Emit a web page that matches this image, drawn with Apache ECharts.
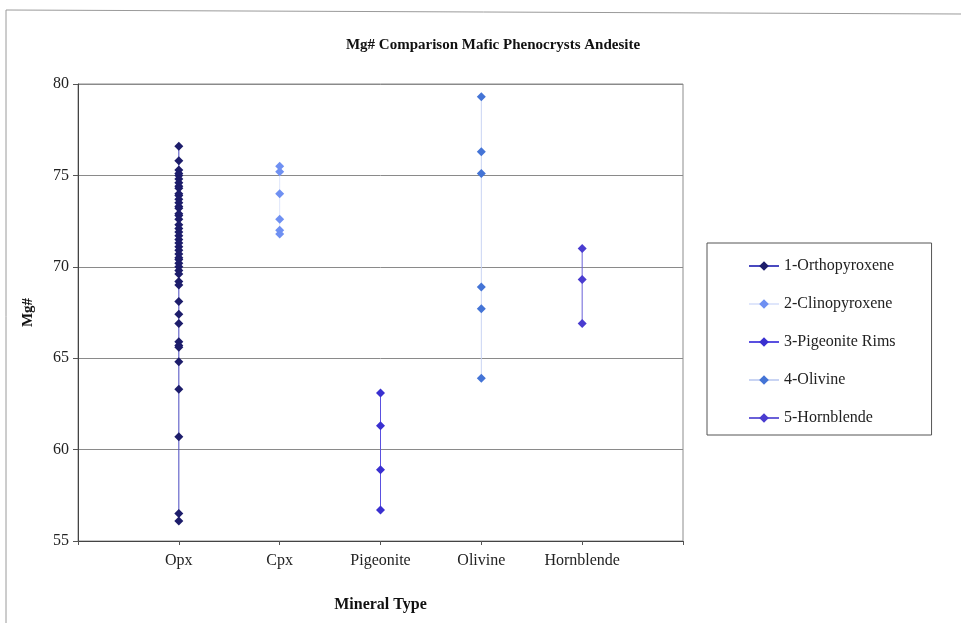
<!DOCTYPE html>
<html>
<head>
<meta charset="utf-8">
<script src="https://cdn.jsdelivr.net/npm/echarts@6/dist/echarts.min.js"></script>
<style>
  html, body { margin: 0; padding: 0; background: #fff; }
  #chart { width: 961px; height: 623px; }
</style>
</head>
<body>
<div id="chart"></div>
<script>
// x positions of the mineral types (XY chart, 1..5)
var categories = ['Opx', 'Cpx', 'Pigeonite', 'Olivine', 'Hornblende'];
var seriesNames = ['1-Orthopyroxene', '2-Clinopyroxene', '3-Pigeonite Rims', '4-Olivine', '5-Hornblende'];

// Mg# values
var opx = [76.6, 75.8, 75.3, 75.1, 75.0, 74.8, 74.6, 74.4, 74.3, 74.0, 73.9, 73.7, 73.5, 73.3, 73.2,
  72.9, 72.8, 72.6, 72.3, 72.1, 71.9, 71.7, 71.5, 71.3, 71.1, 70.9, 70.7, 70.5, 70.4, 70.2,
  70.0, 69.8, 69.6, 69.2, 69.0, 68.1, 67.4, 66.9, 65.9, 65.7, 65.6, 64.8, 63.3, 60.7, 56.5, 56.1];
var cpx = [75.5, 75.2, 74.0, 72.6, 72.0, 71.8];
var pigeonite = [63.1, 61.3, 58.9, 56.7];
var olivine = [79.3, 76.3, 75.1, 68.9, 67.7, 63.9];
var hornblende = [71.0, 69.3, 66.9];

var yTicks = [55, 60, 65, 70, 75, 80];

var markerColors = ['#1d1d6b', '#6f90f2', '#3a30d0', '#4474d6', '#4a3cd0'];
var lineColors = ['#4a4ac0', '#dfe6fb', '#5a50e0', '#c9d4f3', '#6a60d8'];

var chart = echarts.init(document.getElementById('chart'));

function toPoints(idx, vals) {
  return vals.map(function (v) { return [idx + 1, v]; });
}

var allData = [opx, cpx, pigeonite, olivine, hornblende];
var series = allData.map(function (vals, i) {
  return {
    name: seriesNames[i],
    type: 'line',
    data: toPoints(i, vals),
    symbol: 'diamond',
    symbolSize: 9,
    itemStyle: { color: markerColors[i] },
    lineStyle: { color: lineColors[i], width: 1 },
    emphasis: { disabled: true },
    animation: false
  };
});

var serif = 'Liberation Serif';

var option = {
  backgroundColor: '#fff',
  textStyle: { fontFamily: serif },
  title: {
    text: 'Mg# Comparison Mafic Phenocrysts Andesite',
    left: 488,
    top: 33,
    textAlign: 'center',
    textStyle: { fontFamily: serif, fontSize: 15, fontWeight: 'bold', color: '#111' }
  },
  grid: {
    left: 78,
    right: 278,
    top: 84,
    bottom: 82,
    show: true,
    borderColor: '#8c8c8c',
    borderWidth: 1
  },
  legend: {
    orient: 'vertical',
    left: 707,
    top: 243,
    padding: [15, 36, 9, 41],
    itemGap: 22,
    itemWidth: 30,
    itemHeight: 12,
    borderColor: '#555',
    borderWidth: 1,
    data: seriesNames,
    textStyle: { fontFamily: serif, fontSize: 16, color: '#222' }
  },
  xAxis: {
    type: 'value',
    min: 0,
    max: 6,
    interval: 1,
    name: 'Mineral Type',
    nameLocation: 'middle',
    nameGap: 56,
    nameTextStyle: { fontFamily: serif, fontSize: 16, fontWeight: 'bold', color: '#111' },
    axisLine: { lineStyle: { color: '#444' } },
    axisTick: { length: 4, lineStyle: { color: '#555' } },
    splitLine: { show: false },
    axisLabel: {
      fontFamily: serif,
      fontSize: 16,
      color: '#222',
      margin: 12,
      formatter: function (v) { return categories[v - 1] || ''; }
    }
  },
  yAxis: {
    type: 'value',
    min: yTicks[0],
    max: yTicks[yTicks.length - 1],
    interval: 5,
    name: 'Mg#',
    nameLocation: 'middle',
    nameGap: 42,
    nameTextStyle: { fontFamily: serif, fontSize: 15, fontWeight: 'bold', color: '#111' },
    axisLine: { show: true, lineStyle: { color: '#444' } },
    axisTick: { show: true, length: 5, lineStyle: { color: '#555' } },
    splitLine: { lineStyle: { color: '#8a8a8a', width: 1 } },
    axisLabel: { fontFamily: serif, fontSize: 16, color: '#222', margin: 9 }
  },
  graphic: [
    {
      type: 'polyline',
      shape: { points: [[6, 623], [6, 10], [961, 14]] },
      style: { stroke: '#9a9a9a', lineWidth: 1, fill: null },
      silent: true
    }
  ],
  series: series
};

chart.setOption(option);
</script>
</body>
</html>
